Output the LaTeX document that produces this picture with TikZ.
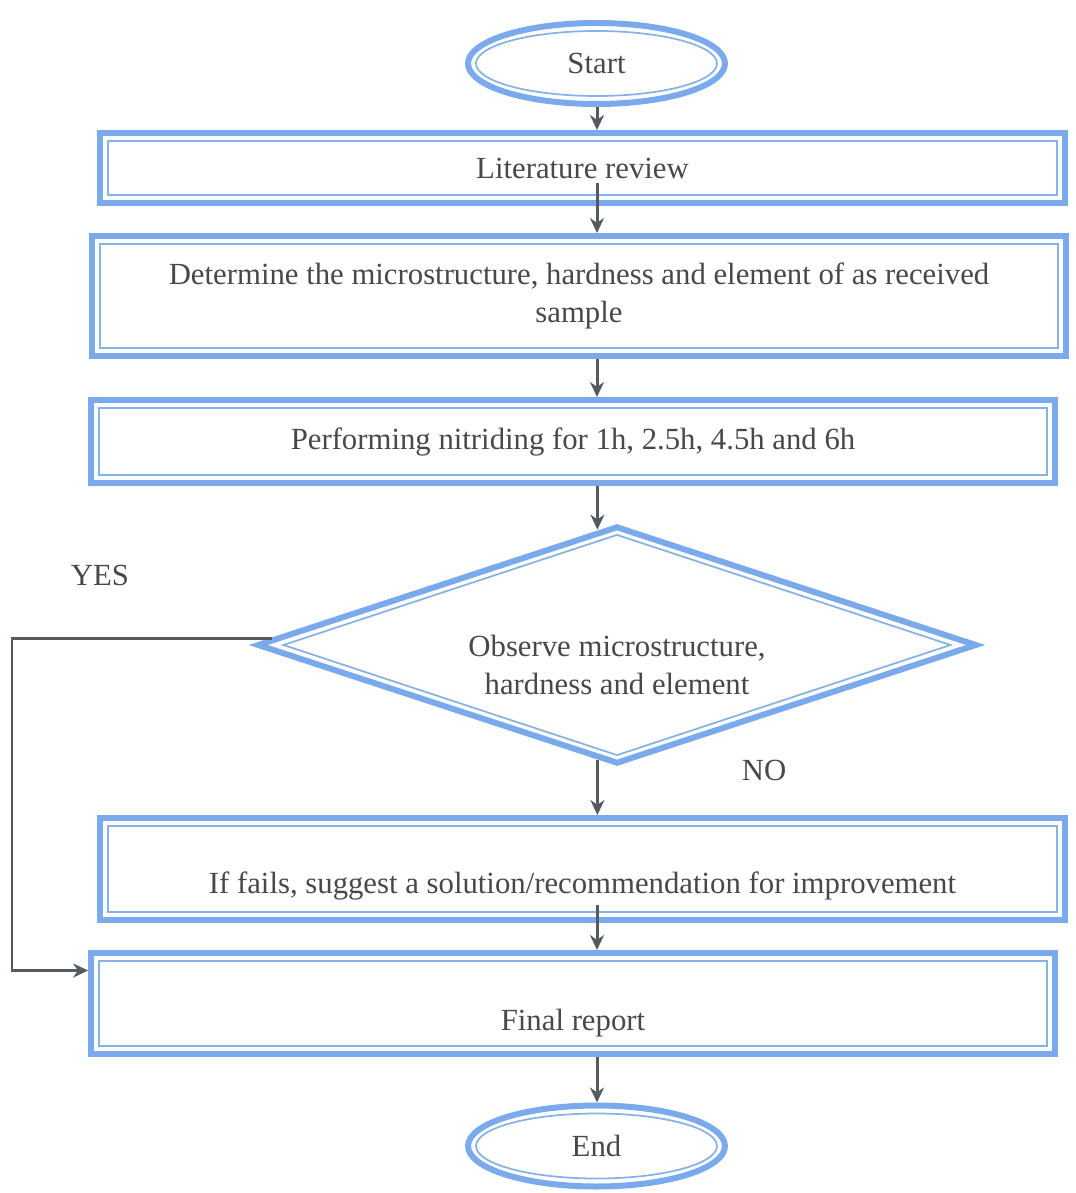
\documentclass[tikz,border=0pt]{standalone}
\usepackage{fontspec}
\setmainfont{Liberation Serif}
\usetikzlibrary{shapes.geometric}
\usetikzlibrary{positioning}
\usetikzlibrary{arrows.meta}
\usetikzlibrary{calc}
\definecolor{frameblue}{RGB}{122,170,235}
\definecolor{innerblue}{RGB}{135,178,232}
\definecolor{inkgray}{RGB}{72,72,72}
\definecolor{arrowgray}{RGB}{85,90,96}
\tikzset{x=0.02cm, y=0.02cm, % one unit = one pixel of the layout
every node/.style={ % Sets the text of each node
text=inkgray,
font=\fontsize{17.5}{22}\selectfont},
terminal/.style={ % Start and end ovals
ellipse,
draw=frameblue,
line width=0.12cm,
inner sep=0pt,
minimum width=5.14cm,
minimum height=1.62cm},
stepbox/.style={ % Process boxes
rectangle,
draw=frameblue,
line width=0.12cm,
inner sep=0pt,
align=center},
decision/.style={
diamond,
draw=frameblue,
line width=0.12cm,
inner sep=0pt,
minimum width=14.4cm,
minimum height=4.76cm},
innerring/.style={ % Thin inner line of each frame
draw=innerblue,
line width=0.035cm,
inner sep=0pt},
arrow/.style={
draw=arrowgray,
line width=0.06cm,
-{Stealth[length=0.3cm,width=0.28cm]}}}

\begin{document}
\begin{tikzpicture}
\useasboundingbox (0,0) rectangle (1075,-1193);
\node[terminal] (start) at (596.5,-63.5) {Start};
\node[stepbox, minimum width=19.3cm, minimum height=1.4cm] (lit) at (582.5,-168) {Literature review};
\node[stepbox, minimum width=19.49cm, minimum height=2.4cm] (det) at (579,-296)
{Determine the microstructure, hardness and element of as received\\sample};
\node[stepbox, minimum width=19.29cm, minimum height=1.66cm] (perf) at (573,-441.5)
{Performing nitriding for 1h, 2.5h, 4.5h and 6h};
\node[decision, label={[align=center, yshift=-0.4cm]center:{Observe microstructure,\\hardness and element}}] (obs) at (617,-645) {};
\node[stepbox, minimum width=19.3cm, text height=1.51cm, text depth=0.53cm] (fail) at (582.5,-869)
{If fails, suggest a solution/recommendation for improvement};
\node[stepbox, minimum width=19.28cm, text height=1.54cm, text depth=0.48cm] (report) at (573,-1003.5) {Final report};
\node[terminal] (end) at (596.5,-1146) {End};
\node (yes) at (100,-575) {YES};
\node (no) at (764,-770) {NO};
% inner lines of the frames
\node[ellipse, innerring, minimum width=4.82cm, minimum height=1.3cm] at (start.center) {};
\node[ellipse, innerring, minimum width=4.82cm, minimum height=1.3cm] at (end.center) {};
\node[diamond, innerring, minimum width=13.36cm, minimum height=4.42cm] at (obs.center) {};
\foreach \n in {lit,det,perf,fail,report}
\draw[innerring] ([shift={(0.22cm,-0.22cm)}]\n.north west) rectangle ([shift={(-0.22cm,0.22cm)}]\n.south east);
% connectors
\coordinate (spine) at (597,0);
\coordinate (obstop) at ($(obs.north)!0.054!(obs.west)$);
\coordinate (obsbot) at ($(obs.south)!0.054!(obs.west)$);
\coordinate (yesbend) at (12,-800);
\draw[arrow] (start.south -| spine) -- (lit.north -| spine);
\draw[arrow] ($(lit.south -| spine)+(0,23)$) -- (det.north -| spine);
\draw[arrow] (det.south -| spine) -- (perf.north -| spine);
\draw[arrow] (perf.south -| obstop) -- (obstop);
\draw[arrow] (obsbot) -- (obsbot |- fail.north);
\draw[arrow] ($(fail.south -| spine)+(0,18)$) -- (report.north -| spine);
\draw[arrow] (report.south -| spine) -- (end.north -| spine);
\draw[arrow] ([shift={(0.36cm,0.14cm)}]obs.west) -| (yesbend) |- ([yshift=0.66cm]report.west);
\end{tikzpicture}
\end{document}
